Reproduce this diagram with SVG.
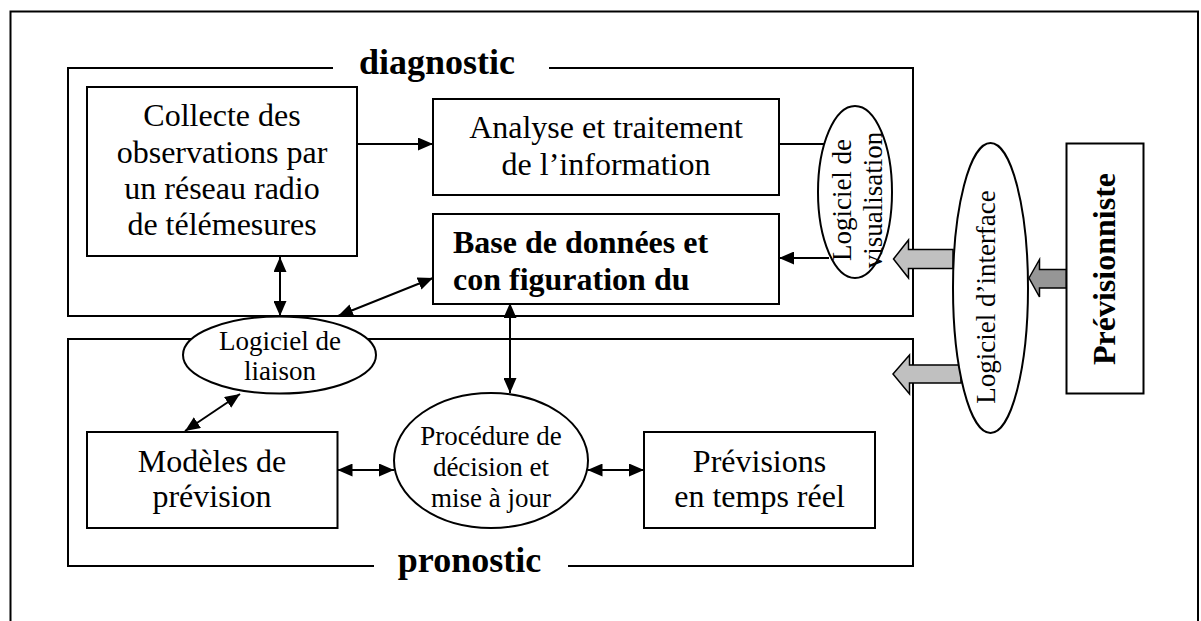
<svg xmlns="http://www.w3.org/2000/svg" width="1201" height="621" viewBox="0 0 1201 621">
<style>
.frame{fill:none;stroke:#000;stroke-width:2}
.box{fill:#fff;stroke:#000;stroke-width:2}
.ell{fill:#fff;stroke:#000;stroke-width:2}
.t{font-family:"Liberation Serif","Times New Roman",serif;font-size:32px;fill:#000;text-anchor:middle}
.tb{font-family:"Liberation Serif","Times New Roman",serif;font-size:32px;font-weight:bold;fill:#000}
.ts{font-family:"Liberation Serif","Times New Roman",serif;font-size:27px;fill:#000;text-anchor:middle}
.title{font-family:"Liberation Serif","Times New Roman",serif;font-size:36px;font-weight:bold;fill:#000;text-anchor:middle}
.c{fill:none;stroke:#000;stroke-width:2}
.a1{marker-end:url(#ah)}
.a2{marker-start:url(#ah);marker-end:url(#ah)}
.blk{stroke:#000;stroke-width:1.5}
</style>
<defs>
<marker id="ah" markerUnits="userSpaceOnUse" markerWidth="15" markerHeight="13" refX="15" refY="6.5" orient="auto-start-reverse" viewBox="0 0 15 13">
<path d="M0,0 L15,6.5 L0,13 z" fill="#000"/>
</marker>
</defs>
<rect width="1201" height="621" fill="#fff"/>
<g id="outer-frame">
<rect x="10.5" y="11.5" width="1187.5" height="640" class="frame"/>
</g>
<g id="diagnostic">
<path d="M333,68 H68 V316 H913 V68 H549" class="frame"/>
<text x="437" y="74" class="title">diagnostic</text>
</g>
<g id="pronostic">
<path d="M374,566 H68 V339 H913 V566 H568" class="frame"/>
<text x="469.5" y="572" class="title">pronostic</text>
</g>
<g id="collecte">
<rect x="87" y="87" width="270" height="169" class="box"/>
<text class="t"><tspan x="222" y="126">Collecte des</tspan><tspan x="222" y="163">observations par</tspan><tspan x="222" y="199">un réseau radio</tspan><tspan x="222" y="235">de télémesures</tspan></text>
</g>
<g id="analyse">
<rect x="433" y="99" width="346" height="96" class="box"/>
<text class="t"><tspan x="606" y="138">Analyse et traitement</tspan><tspan x="606" y="175">de l’information</tspan></text>
</g>
<g id="base">
<rect x="433" y="214" width="346" height="90" class="box"/>
<text class="tb"><tspan x="453" y="253">Base de données et</tspan><tspan x="453" y="290">con figuration du</tspan></text>
</g>
<g id="connectors">
<line x1="357" y1="144" x2="433" y2="144" class="c a1"/>
<line x1="779" y1="144" x2="826" y2="144" class="c"/>
<line x1="829" y1="258" x2="779" y2="258" class="c a1"/>
<line x1="280" y1="257" x2="280" y2="316" class="c a2"/>
<line x1="338" y1="316" x2="433" y2="278" class="c a2"/>
<line x1="510" y1="303" x2="510" y2="393" class="c a2"/>
<line x1="185" y1="431" x2="240" y2="394" class="c a2"/>
<line x1="337.5" y1="470" x2="394" y2="470" class="c a2"/>
<line x1="587.5" y1="470" x2="644" y2="470" class="c a2"/>
<polygon points="893.5,259 908.5,240 908.5,249.5 953,249.5 953,268.5 908.5,268.5 908.5,278" fill="#c0c0c0" class="blk"/>
<polygon points="1029,278 1039.5,259.5 1039.5,269.5 1066.5,269.5 1066.5,288 1039.5,288 1039.5,297" fill="#969696" class="blk"/>
<polygon points="893,374 909.5,355 909.5,365 961,365 961,383 909.5,383 909.5,394" fill="#c0c0c0" class="blk"/>
</g>
<g id="visualisation">
<ellipse cx="855" cy="192" rx="37" ry="86" class="ell"/>
<text transform="translate(851,200) rotate(-90)" class="ts"><tspan x="0" y="0">Logiciel de</tspan><tspan x="0" y="31">visualisation</tspan></text>
</g>
<g id="interface">
<ellipse cx="990.5" cy="288" rx="37.5" ry="145" class="ell"/>
<text transform="translate(995,297) rotate(-90)" class="ts" x="0" y="0">Logiciel d’interface</text>
</g>
<g id="previsionniste">
<rect x="1066.5" y="143.5" width="77" height="250" class="box"/>
<text transform="translate(1115,269) rotate(-90)" class="tb" text-anchor="middle" x="0" y="0">Prévisionniste</text>
</g>
<g id="liaison">
<ellipse cx="279.5" cy="355" rx="96.5" ry="38.5" class="ell"/>
<text class="ts"><tspan x="280" y="350">Logiciel de</tspan><tspan x="280" y="380">liaison</tspan></text>
</g>
<g id="modeles">
<rect x="87" y="432" width="250.5" height="96" class="box"/>
<text class="t"><tspan x="212" y="472">Modèles de</tspan><tspan x="212" y="507">prévision</tspan></text>
</g>
<g id="procedure">
<ellipse cx="491" cy="460.5" rx="97" ry="67.5" class="ell"/>
<text class="ts"><tspan x="491" y="445">Procédure de</tspan><tspan x="491" y="476">décision et</tspan><tspan x="491" y="507">mise à jour</tspan></text>
</g>
<g id="previsions">
<rect x="644" y="432" width="231" height="96" class="box"/>
<text class="t"><tspan x="759.5" y="472">Prévisions</tspan><tspan x="759.5" y="507">en temps réel</tspan></text>
</g>
</svg>
